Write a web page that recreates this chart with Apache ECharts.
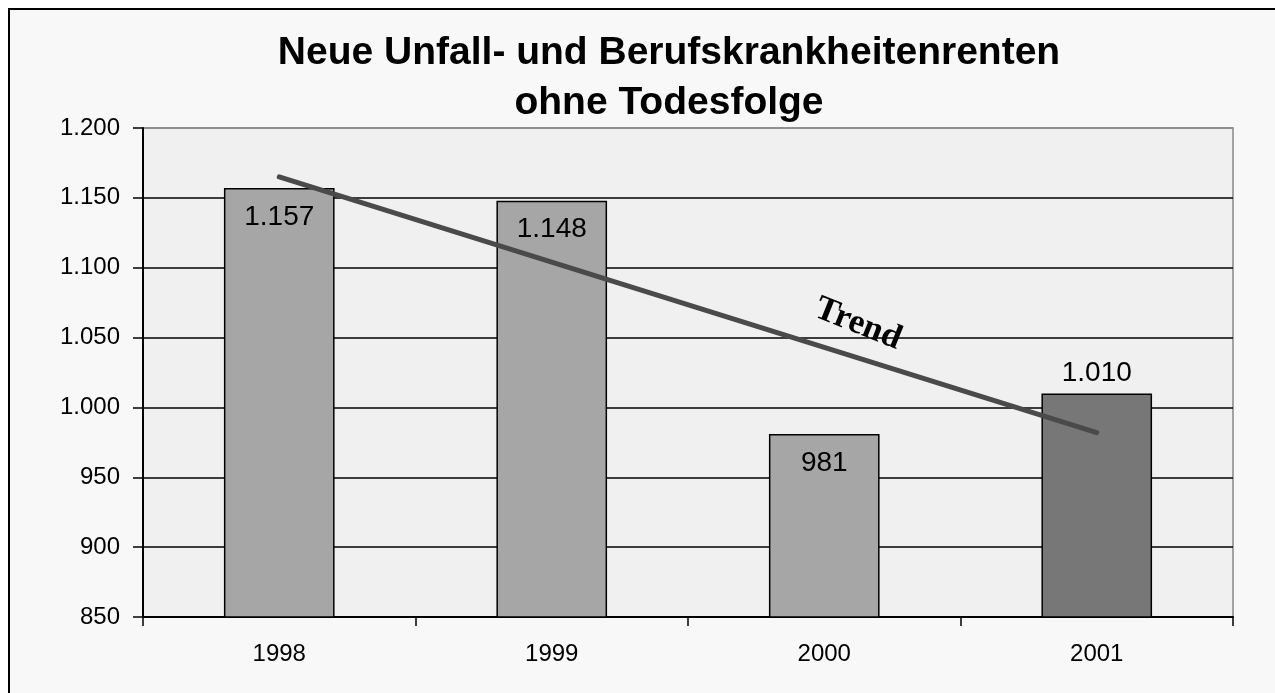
<!DOCTYPE html>
<html>
<head>
<meta charset="utf-8">
<script src="https://cdn.jsdelivr.net/npm/echarts@6/dist/echarts.min.js"></script>
<style>
html,body{margin:0;padding:0;background:#fff;}
#chart{width:1275px;height:693px;}
</style>
</head>
<body>
<div id="chart"></div>
<script>
var years = ['1998', '1999', '2000', '2001'];
var counts = [1157, 1148, 981, 1010];
var barColors = ['#a6a6a6', '#a6a6a6', '#a6a6a6', '#777777'];
var labelPos = ['insideTop', 'insideTop', 'insideTop', 'top'];
// trend line: start at 1998, end at 2001
var trend = [1165, null, null, 982];

function fmt(v) {
    var s = String(Math.round(v));
    if (s.length > 3) s = s.slice(0, s.length - 3) + '.' + s.slice(-3);
    return s;
}

var barData = [];
for (var i = 0; i < counts.length; i++) {
    barData.push({
        value: counts[i],
        itemStyle: {color: barColors[i]},
        label: {position: labelPos[i], distance: labelPos[i] == 'top' ? 6 : 15}
    });
}

var myChart = echarts.init(document.getElementById('chart'));
var option = {
    backgroundColor: '#ffffff',
    animation: false,
    graphic: [{
        type: 'rect',
        z: -10,
        shape: {x: 9, y: 9, width: 1400, height: 800},
        style: {fill: '#f8f8f8', stroke: '#000', lineWidth: 2}
    }, {
        type: 'text',
        x: 858,
        y: 324,
        rotation: -0.38,
        z: 20,
        style: {
            text: 'Trend',
            fill: '#000',
            font: 'bold 35px "Liberation Serif", "DejaVu Serif", serif',
            align: 'center',
            verticalAlign: 'middle'
        }
    }],
    title: {
        text: 'Neue Unfall- und Berufskrankheitenrenten\nohne Todesfolge',
        left: 664,
        top: 23,
        textAlign: 'center',
        textStyle: {
            color: '#000',
            fontWeight: 'bold',
            fontFamily: 'Arial, "Liberation Sans", sans-serif',
            fontSize: 39,
            lineHeight: 50
        }
    },
    grid: {
        left: 143,
        right: 42,
        top: 128,
        bottom: 76,
        show: true,
        backgroundColor: '#f0f0f0',
        borderColor: '#888888',
        borderWidth: 1.5
    },
    xAxis: {
        type: 'category',
        data: years,
        axisLine: {lineStyle: {color: '#000', width: 2}},
        axisTick: {show: true, length: 9, lineStyle: {color: '#000', width: 1.5}},
        axisLabel: {
            color: '#000',
            fontSize: 24,
            fontFamily: 'Arial, "Liberation Sans", sans-serif',
            margin: 25
        }
    },
    yAxis: {
        type: 'value',
        min: 850,
        max: 1200,
        interval: 50,
        axisLine: {show: true, lineStyle: {color: '#000', width: 2}},
        axisTick: {show: true, length: 10, lineStyle: {color: '#000', width: 1.5}},
        axisLabel: {
            color: '#000',
            fontSize: 24,
            fontFamily: 'Arial, "Liberation Sans", sans-serif',
            margin: 23,
            formatter: fmt
        },
        splitLine: {
            lineStyle: {
                color: ['#000', '#000', '#000', '#000', '#000', '#000', '#000', '#888'],
                width: 1.5
            }
        }
    },
    series: [{
        name: 'Renten',
        type: 'bar',
        barWidth: '40.6%',
        data: barData,
        itemStyle: {borderColor: '#000', borderWidth: 1.5},
        label: {
            show: true,
            color: '#000',
            fontSize: 28,
            fontFamily: 'Arial, "Liberation Sans", sans-serif',
            formatter: function (p) { return fmt(p.value); }
        }
    }, {
        name: 'Trend',
        type: 'line',
        data: trend,
        connectNulls: true,
        symbol: 'none',
        z: 10,
        lineStyle: {color: '#4a4a4a', width: 5, cap: 'round'}
    }]
};
myChart.setOption(option);
</script>
</body>
</html>
